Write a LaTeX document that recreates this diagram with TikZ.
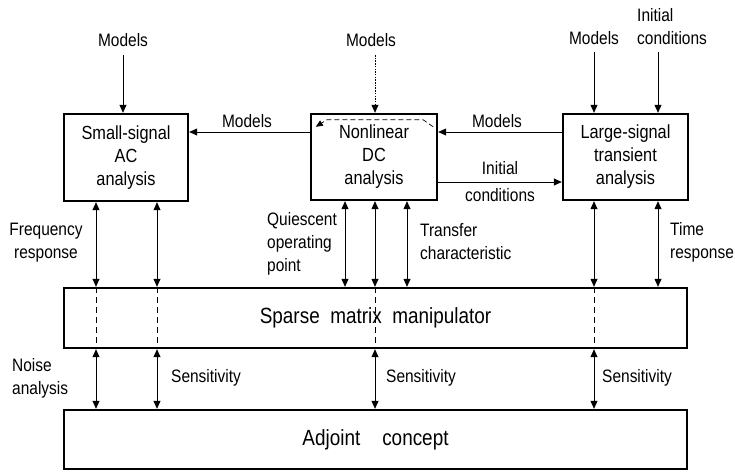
\documentclass[tikz,border=0pt]{standalone}
\usepackage{fontspec}
\setmainfont[FakeStretch=0.86]{Liberation Sans}
\usetikzlibrary{arrows.meta,calc}
\newcommand\lblfont{\fontsize{18}{23}\selectfont}
\newcommand\boxfont{\fontsize{19}{23}\selectfont}
\newcommand\bigfont{\fontsize{22}{26}\selectfont}
\begin{document}
\begin{tikzpicture}[x=1pt,y=-1pt,
  box/.style={draw, line width=2.4pt, rectangle, inner sep=0pt, align=center, font=\boxfont},
  arr/.style={line width=0.7pt, -{Triangle[length=8pt,width=7pt]}},
  dar/.style={line width=0.7pt, {Triangle[length=8pt,width=7pt]}-{Triangle[length=8pt,width=7pt]}},
  inner/.style={line width=0.6pt, dash pattern=on 6pt off 4pt},
  lbl/.style={font=\lblfont, inner sep=0pt, align=left},
  clbl/.style={font=\lblfont, inner sep=0pt, align=center}]
\useasboundingbox (0,0) rectangle (735,471);
% boxes
\node[box, minimum width=124pt, minimum height=87pt] (ss) at (126,157.5) {Small-signal\\AC\\analysis};
\node[box, minimum width=126pt, minimum height=86pt] (dc) at (374,157) {Nonlinear\\DC\\analysis};
\node[box, minimum width=125pt, minimum height=86pt] (ls) at (625.5,157) {Large-signal\\transient\\analysis};
\node[box, minimum width=623pt, minimum height=60pt, font=\bigfont] (sp) at (375.5,318) {Sparse\ \ matrix\ \ manipulator};
\node[box, minimum width=623pt, minimum height=59pt, font=\bigfont] (adj) at (375.5,439.5) {Adjoint\quad concept};
% top labels
\node[clbl] (m1) at (123,40) {Models};
\node[clbl] (m2) at (371,40) {Models};
\node[clbl] (m3) at (594,38) {Models};
\node[lbl, anchor=west] (ic) at (637,27) {Initial\\conditions};
\draw[arr] (m1.south |- 0,55) -- (ss.north -| m1.south);
\draw[arr, dash pattern=on 1.5pt off 1.2pt] (375,55) coordinate (m2a) -- (dc.north -| m2a);
\draw[arr] (594,52) coordinate (m3a) -- (ls.north -| m3a);
\draw[arr] (658,52) coordinate (ica) -- (ls.north -| ica);
% horizontal links
\coordinate (yA) at (0,132);
\coordinate (yB) at (0,182);
\draw[arr] (dc.west |- yA) -- (ss.east |- yA);
\node[clbl] (mh1) at (247,121) {Models};
\draw[arr] (ls.west |- yA) -- (dc.east |- yA);
\node[clbl] (mh2) at (497,121) {Models};
\draw[arr] (dc.east |- yB) -- (ls.west |- yB);
\node[font=\fontsize{18}{27}\selectfont, inner sep=0pt, align=center] (ich) at (500,182) {Initial\\conditions};
% dashed internal path in DC
\draw[line width=0.7pt, dash pattern=on 5pt off 3pt, -{Triangle[length=7pt,width=6pt]}]
  ($(dc.north east)+(-5,14)$) -- ($(dc.north east)+(-15,7)$) -- ($(dc.north west)+(17,7)$) -- ($(dc.north west)+(6,14)$);
% x positions
\coordinate (x1) at (96,0);
\coordinate (x2) at (157,0);
\coordinate (x3) at (345,0);
\coordinate (x4) at (375,0);
\coordinate (x5) at (407,0);
\coordinate (x6) at (594,0);
\coordinate (x7) at (658,0);
% upper vertical arrows
\foreach \c/\b in {x1/ss,x2/ss,x3/dc,x4/dc,x5/dc,x6/ls,x7/ls}
  \draw[dar] (\b.south -| \c) -- (sp.north -| \c);
% dashed lines through sparse box
\foreach \c in {x1,x2,x4,x6}
  \draw[inner] (sp.north -| \c) -- (sp.south -| \c);
% lower vertical arrows
\foreach \c in {x1,x2,x4,x6}
  \draw[dar] (sp.south -| \c) -- (adj.north -| \c);
% side labels
\node[clbl] (fr) at (46,243) {Frequency\\response};
\node[lbl, anchor=west] (qop) at (267,244) {Quiescent\\operating\\point};
\node[lbl, anchor=west] (tc) at (420,242) {Transfer\\characteristic};
\node[lbl, anchor=west] (tr) at (670,242) {Time\\response};
\node[lbl, anchor=west] (na) at (12,378) {Noise\\analysis};
\node[lbl, anchor=west] (s1) at (171,378) {Sensitivity};
\node[lbl, anchor=west] (s2) at (386,378) {Sensitivity};
\node[lbl, anchor=west] (s3) at (602,378) {Sensitivity};
\end{tikzpicture}
\end{document}
